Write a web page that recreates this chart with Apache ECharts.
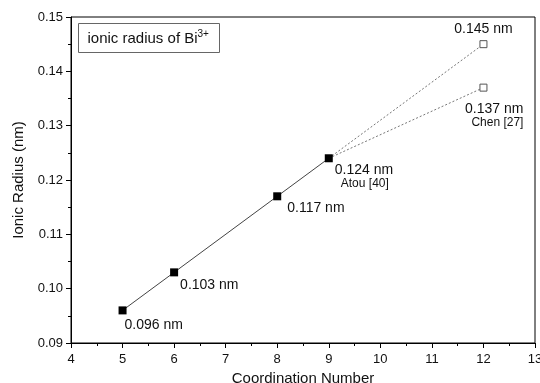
<!DOCTYPE html>
<html>
<head>
<meta charset="utf-8">
<script src="https://cdn.jsdelivr.net/npm/echarts@6/dist/echarts.min.js"></script>
<style>
  html, body { margin: 0; padding: 0; background: #fff; }
  #chart { width: 540px; height: 383px; }
</style>
</head>
<body>
<div id="chart"></div>
<script>
// Ionic radius of Bi3+ versus coordination number
const coordination = [5, 6, 8, 9];
const radius = [0.096, 0.103, 0.117, 0.124];
const mainRefs = ['', '', '', 'Atou [40]'];

// Extrapolated / literature values for coordination number 12
const extraCoord = [12, 12];
const extraRadius = [0.145, 0.137];
const extraRefs = ['', 'Chen [27]'];

const xTicks = [4, 5, 6, 7, 8, 9, 10, 11, 12, 13];
const yTicks = [0.09, 0.10, 0.11, 0.12, 0.13, 0.14, 0.15];

const FONT = '"Liberation Sans", Arial, sans-serif';

const fmt = v => v.toFixed(3) + ' nm';

// label placement for each point (offset of label anchor from the marker)
const mainLabelPlace = [
  { align: 'left', offset: [2, 15] },
  { align: 'left', offset: [6, 13] },
  { align: 'left', offset: [10, 12] },
  { align: 'left', offset: [6, 18] }
];
const extraLabelPlace = [
  { align: 'center', offset: [0, -15] },
  { align: 'right', offset: [40, 28] }
];

function labelFor(value, ref, place, refPad) {
  return {
    show: true,
    position: 'inside',
    align: place.align,
    verticalAlign: 'middle',
    offset: place.offset,
    formatter: () => ref ? fmt(value) + '\n{ref|' + ref + '}' : fmt(value),
    color: '#111',
    fontSize: 14,
    fontFamily: FONT,
    lineHeight: 14,
    rich: { ref: { fontSize: 12, fontFamily: FONT, color: '#111', padding: [0, 0, 0, refPad], lineHeight: 13 } }
  };
}

const mainData = coordination.map((x, i) => ({
  value: [x, radius[i]],
  label: labelFor(radius[i], mainRefs[i], mainLabelPlace[i], 6)
}));

// dotted extrapolation lines from the last measured point
const last = [coordination[coordination.length - 1], radius[radius.length - 1]];
const extraSeries = extraCoord.map((x, i) => ({
  type: 'line',
  data: [
    { value: last, symbol: 'none' },
    { value: [x, extraRadius[i]], label: labelFor(extraRadius[i], extraRefs[i], extraLabelPlace[i], 0) }
  ],
  symbol: 'rect',
  symbolSize: 7,
  itemStyle: { color: '#fff', borderColor: '#555', borderWidth: 1 },
  lineStyle: { color: '#777', width: 1, type: [2, 2] },
  z: 2
}));

const axisCommon = {
  axisLine: { show: true, onZero: false, lineStyle: { color: '#000', width: 1 } },
  axisTick: { show: true, inside: false, length: 5, lineStyle: { color: '#000' } },
  minorTick: { show: true, splitNumber: 2, length: 3, lineStyle: { color: '#000' } },
  splitLine: { show: false },
  nameLocation: 'middle',
  nameTextStyle: { fontSize: 15, fontFamily: FONT, color: '#111' }
};

const chart = echarts.init(document.getElementById('chart'), null, { renderer: 'canvas' });
chart.setOption({
  backgroundColor: '#fff',
  animation: false,
  grid: {
    left: 71, right: 5, top: 17, bottom: 40,
    containLabel: false, outerBoundsMode: 'none',
    show: true, borderColor: '#000', borderWidth: 1, backgroundColor: 'transparent'
  },
  xAxis: Object.assign({}, axisCommon, {
    type: 'value', min: xTicks[0], max: xTicks[xTicks.length - 1], interval: 1,
    name: 'Coordination Number', nameGap: 26,
    axisLabel: { fontSize: 13, fontFamily: FONT, color: '#111', margin: 10 }
  }),
  yAxis: Object.assign({}, axisCommon, {
    type: 'value', min: yTicks[0], max: yTicks[yTicks.length - 1], interval: 0.01,
    name: 'Ionic Radius (nm)', nameGap: 41,
    axisLabel: { fontSize: 13, fontFamily: FONT, color: '#111', margin: 8, formatter: v => v.toFixed(2) }
  }),
  graphic: [
    {
      type: 'group', left: 78, top: 23,
      children: [
        { type: 'rect', shape: { x: 0, y: 0, width: 141, height: 29 }, style: { fill: '#fff', stroke: '#666', lineWidth: 1 } },
        {
          type: 'text', x: 9, y: 15,
          style: {
            text: 'ionic radius of Bi{sup|3+}',
            fontSize: 15, fontFamily: FONT, fill: '#111', verticalAlign: 'middle',
            rich: { sup: { fontSize: 10, fontFamily: FONT, fill: '#111', padding: [0, 0, 9, 0] } }
          }
        }
      ]
    }
  ],
  series: [
    {
      type: 'line',
      data: mainData,
      symbol: 'rect',
      symbolSize: 8,
      itemStyle: { color: '#000' },
      lineStyle: { color: '#444', width: 1 },
      z: 3
    },
    ...extraSeries
  ]
});
</script>
</body>
</html>
